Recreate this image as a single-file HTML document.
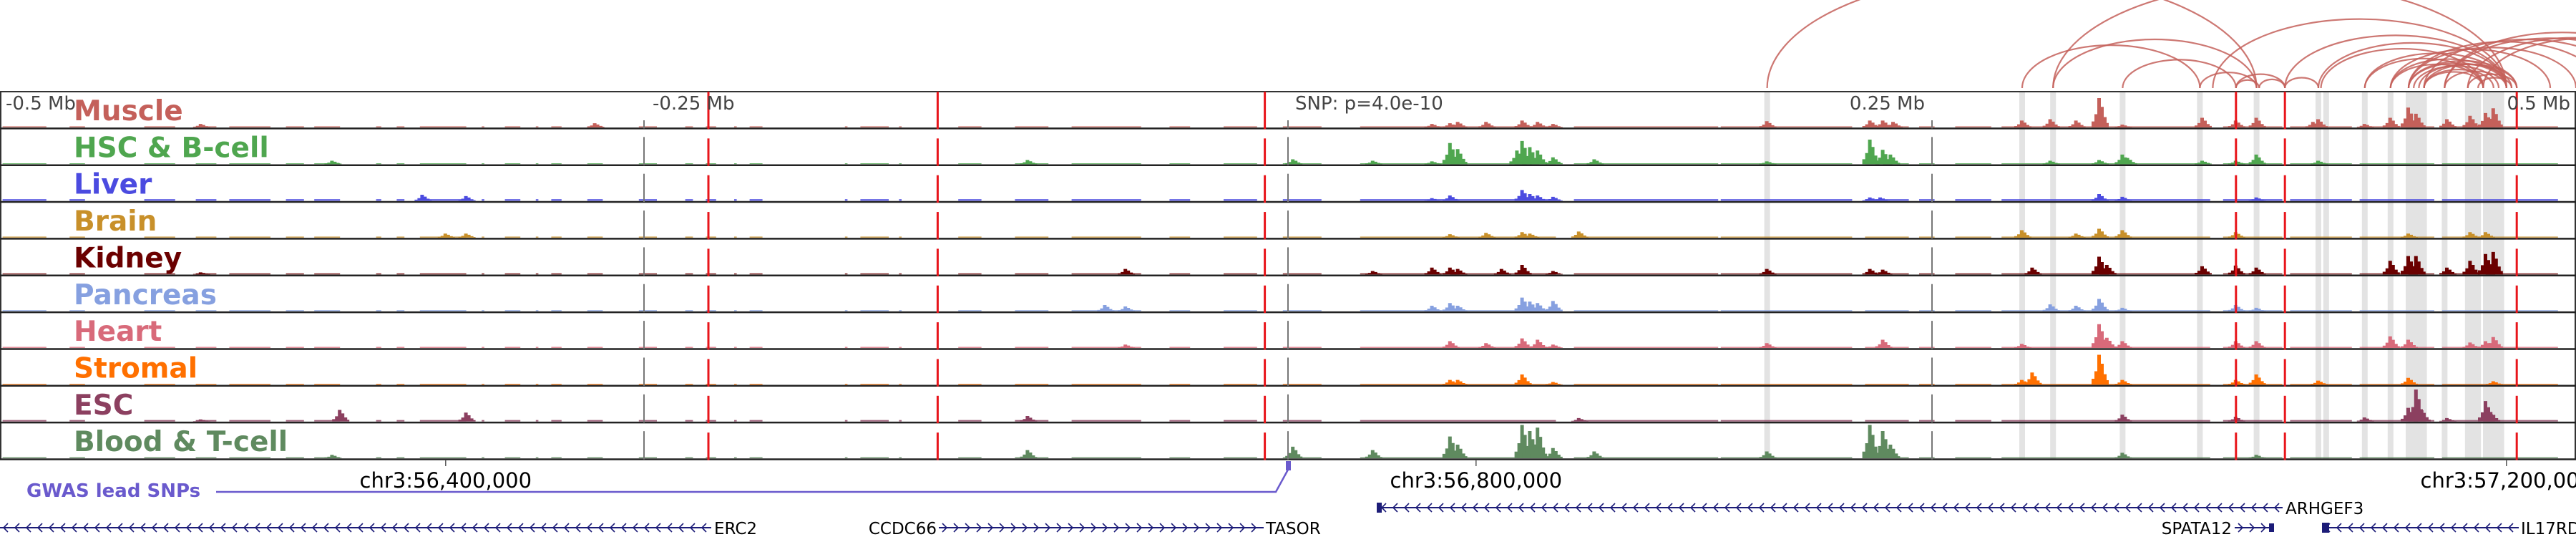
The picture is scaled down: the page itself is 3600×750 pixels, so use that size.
<!DOCTYPE html>
<html><head><meta charset="utf-8"><style>
html,body{margin:0;padding:0;background:#fff;}
svg{display:block;font-family:"DejaVu Sans","Liberation Sans",sans-serif;}
</style></head><body>
<svg id="chart" width="3600" height="750" viewBox="0 0 3600 750" xmlns="http://www.w3.org/2000/svg">
<g id="bands"></g>
<g id="arcs"></g>
<g id="tracks"></g>
<g id="vlines"></g>
<g id="labels"></g>
<g id="axis">
  <text x="8" y="153" font-size="26" fill="#444">-0.5 Mb</text>
  <text x="912" y="153" font-size="26" fill="#444">-0.25 Mb</text>
  <text x="1810" y="153" font-size="26" fill="#444">SNP: p=4.0e-10</text>
  <text x="2690" y="153" font-size="26" fill="#444" text-anchor="end">0.25 Mb</text>
  <text x="3592" y="153" font-size="26" fill="#444" text-anchor="end">0.5 Mb</text>
</g>
<g id="coords"></g>
<g id="gwas">
  <text x="37" y="694" font-size="26" font-weight="bold" fill="#6a5acd">GWAS lead SNPs</text>
  <polyline points="302,687 1783,687 1800,656" fill="none" stroke="#6a5acd" stroke-width="2.5"/>
  <rect x="1797" y="644" width="7" height="13" fill="#6a5acd"/>
</g>
<g id="genes"></g>
</svg>
<script>
const KB_PX = 3.6, CENTER_X = 1800;
const trackNames = ["Muscle","HSC & B-cell","Liver","Brain","Kidney","Pancreas","Heart","Stromal","ESC","Blood & T-cell"];
const trackColors = ["#c4605a","#4fa64f","#4b4be0","#c8902a","#6b0000","#86a0e0","#d86a7a","#ff7000","#8c4060","#5f8a5f"];
const bgLevels = [1.5,1.2,2.5,1.5,1.5,1.5,1.5,1.2,2,1.5];
const bgSegments = [[-499,-482],[-473,-467],[-444,-432],[-424,-416],[-411,-395],[-389,-382],[-378,-368],[-354,-352],[-346,-343],[-337,-319],[-313,-312],[-304,-298],[-292,-291],[-286,-282],[-272,-266],[-252,-245],[-234,-231],[-226,-222],[-215,-214],[-209,-204],[-172,-171],[-166,-155],[-151,-150],[-128,-119],[-106,-93],[-84,-57],[-46,-38],[-25,-12],[-2,13],[28,104],[111,167],[168,219],[224,241],[245,251],[259,273],[277,358],[363,386],[389,413],[416,445],[448,493]];
const peaksMuscle = [[-422,5],[-269,6],[56,5],[63,6],[66,8],[77,8],[91,10],[97,8],[103,5],[186,9],[226,10],[231,10],[235,8],[285,10],[296,12],[306,10],[315,43],[324,4],[355,14],[368,10],[376,14],[398,8],[400,12],[418,5],[428,14],[435,29],[438,20],[450,12],[459,17],[465,21],[468,28]];
const peaksHSC = [[-371,5],[-101,6],[2,7],[33,5],[56,4],[63,31],[66,22],[89,20],[91,34],[94,25],[97,20],[103,10],[119,7],[186,4],[226,36],[231,21],[234,14],[296,5],[315,6],[324,14],[326,9],[355,5],[368,5],[376,14],[400,5]];
const peaksLiver = [[-336,9],[-319,7],[56,4],[63,8],[91,16],[94,10],[97,8],[103,6],[226,5],[230,5],[315,10],[324,6],[376,5]];
const peaksBrain = [[-327,6],[-319,6],[63,5],[77,7],[91,8],[94,6],[113,9],[285,11],[306,6],[315,13],[324,11],[368,8],[435,6],[459,8],[465,8]];
const peaksKidney = [[-422,3],[-63,8],[33,5],[56,10],[63,10],[66,8],[83,8],[91,14],[103,5],[186,8],[226,8],[231,7],[289,10],[315,26],[318,14],[355,12],[368,13],[376,10],[428,20],[435,27],[438,27],[450,10],[459,20],[465,30],[468,33]];
const peaksPancreas = [[-71,9],[-63,7],[56,8],[63,12],[66,8],[91,20],[94,14],[97,12],[103,15],[296,10],[306,8],[315,18],[324,5],[368,9],[376,5]];
const peaksHeart = [[-63,5],[63,10],[77,7],[91,14],[97,12],[103,5],[186,7],[231,12],[285,6],[315,35],[318,15],[324,10],[368,10],[376,10],[428,17],[435,12],[459,8],[465,10],[468,16]];
const peaksStromal = [[63,7],[66,7],[91,15],[103,4],[285,7],[289,18],[315,44],[324,7],[368,7],[376,15],[400,6],[435,10],[468,5]];
const peaksESC = [[-422,3],[-368,17],[-319,13],[-101,8],[113,5],[324,10],[368,7],[418,6],[435,20],[438,47],[440,18],[450,5],[465,30],[467,14]];
const peaksBlood = [[-371,5],[-101,12],[2,17],[33,12],[63,32],[66,20],[91,50],[94,40],[97,45],[103,15],[119,10],[186,10],[226,50],[231,40],[234,20],[324,8],[376,5]];
const trackPeaks = [peaksMuscle,peaksHSC,peaksLiver,peaksBrain,peaksKidney,peaksPancreas,peaksHeart,peaksStromal,peaksESC,peaksBlood];
const anchorBands = [186,285,297,324,354,376,400,403,418,428,435,437,439,441,449,458,460,462,465,467,469,471];
const loops = [[186,376],[285,354],[297,473],[297,376],[324,368],[359,473],[354,376],[368,387],[368,377],[377,387],[387,400],[387,473],[401,464],[418,473],[449,530],[428,473],[435,473],[435,477],[441,477],[428,464],[435,500],[441,520],[449,540],[458,540],[464,545],[428,490],[435,510],[418,464],[441,464],[458,477],[449,473],[400,473],[437,470],[439,475],[441,468],[462,475]];
const redLinesKb = [-225,-136,-9,368,387,477];
const greyLinesKb = [-250,0,250];
const coordLabels = ["chr3:56,400,000","chr3:56,800,000","chr3:57,200,000"];
const coordKb = [-327,73,473];

const NS="http://www.w3.org/2000/svg";
const xs = kb => CENTER_X + kb*KB_PX;
const TOP=128, TH=51.35, NT=10;
const trackTop = i => TOP + i*TH;
const ys = v => Math.min(v, 49) * 0.95;
function mk(tag, attrs, parent){const e=document.createElementNS(NS,tag);for(const k in attrs)e.setAttribute(k,attrs[k]);parent.appendChild(e);return e;}

const bandsG=document.getElementById('bands');
anchorBands.forEach(kb=>{
  const r=mk('rect',{x:xs(kb)-4,y:TOP,width:8,height:NT*TH,fill:'#e3e3e3'},bandsG);
  
  
});

const arcsG=document.getElementById('arcs');
const FOOT=123;
loops.forEach(([s,e])=>{
  const x1=xs(s), x2=xs(e), a=(x2-x1)/2, b=0.45*a+4;
  const p=mk('path',{d:`M${x1},${FOOT} A${a},${b} 0 0 1 ${x2},${FOOT}`,fill:'none',stroke:'#c4605a','stroke-width':2.2,'stroke-opacity':0.85},arcsG);
  
  
});

const tracksG=document.getElementById('tracks');
mk('line',{x1:0,y1:TOP,x2:3600,y2:TOP,stroke:'#333','stroke-width':2},tracksG);
mk('line',{x1:1,y1:TOP,x2:1,y2:TOP+NT*TH,stroke:'#333','stroke-width':2},tracksG);
mk('line',{x1:3599,y1:TOP,x2:3599,y2:TOP+NT*TH,stroke:'#333','stroke-width':2},tracksG);
const labelsG=document.getElementById('labels');
for(let i=0;i<NT;i++){
  const g=mk('g',{},tracksG);
  
  
  const base=trackTop(i)+TH-1.5, col=trackColors[i];
  bgSegments.forEach(([s,e])=>{
    const r=mk('rect',{x:xs(s),y:base-bgLevels[i],width:Math.max(2,(e-s)*KB_PX),height:bgLevels[i],fill:col,'fill-opacity':0.8},g);
    
    
  });
  trackPeaks[i].forEach(([kb,v])=>{
    const x=xs(kb), h=ys(v);
    const d=`M${x-11},${base} V${base-h*0.2} H${x-7} V${base-h*0.45} H${x-3} V${base-h} H${x+2} V${base-h*0.7} H${x+6} V${base-h*0.35} H${x+10} V${base-h*0.15} H${x+13} V${base} Z`;
    const p=mk('path',{d:d,fill:col},g);
    
    
  });
  mk('line',{x1:0,y1:trackTop(i)+TH,x2:3600,y2:trackTop(i)+TH,stroke:'#222','stroke-width':2.5},g);
  const t=mk('text',{x:103,y:trackTop(i)+40,'font-size':39,'font-weight':'bold',fill:col},labelsG);
  t.textContent=trackNames[i];
  
  
}

const vG=document.getElementById('vlines');
for(let i=0;i<NT;i++){
  greyLinesKb.forEach(kb=>{
    const l=mk('line',{x1:xs(kb),y1:trackTop(i)+(i==0?40:12),x2:xs(kb),y2:trackTop(i)+TH,stroke:'#777','stroke-width':2},vG);
    
    
  });
  redLinesKb.forEach(kb=>{
    const l=mk('line',{x1:xs(kb),y1:trackTop(i)+(i==0?0:14),x2:xs(kb),y2:trackTop(i)+TH+1,stroke:'#e8151b','stroke-width':3},vG);
    
    
  });
}

const cG=document.getElementById('coords');
coordLabels.forEach((lab,k)=>{
  const x=xs(coordKb[k]);
  const l=mk('line',{x1:x,y1:642,x2:x,y2:651,stroke:'#555','stroke-width':1.5},cG);
  
  
  const t=mk('text',{x:x,y:681,'font-size':29,'text-anchor':'middle',fill:'#000'},cG);
  t.textContent=lab;
  
  
});

const gG=document.getElementById('genes');
const NAVY='#1c1c78';
function gene(name,x1,x2,y,dir,labelX,anchor){
  const g=mk('g',{},gG);
  
  
  mk('line',{x1:x1,y1:y,x2:x2,y2:y,stroke:NAVY,'stroke-width':2},g);
  for(let x=x1+6;x<x2-6;x+=16){
    const d=dir<0?`M${x+5},${y-6} L${x-1},${y} L${x+5},${y+6}`:`M${x-1},${y-6} L${x+5},${y} L${x-1},${y+6}`;
    mk('path',{d:d,fill:'none',stroke:NAVY,'stroke-width':1.6},g);
  }
  const t=mk('text',{x:labelX,y:y+9,'font-size':23,fill:'#000','text-anchor':anchor},g);
  t.textContent=name;
  return g;
}
gene('ERC2',0,994,737,-1,998,'start');
gene('TASOR',1312,1766,737,1,1769,'start');
const cc=mk('text',{x:1309,y:746,'font-size':23,fill:'#000','text-anchor':'end'},gG);
cc.textContent='CCDC66';


gene('ARHGEF3',1926,3190,709,-1,3194,'start');
mk('rect',{x:1924,y:702,width:7,height:14,fill:NAVY},gG);
gene('SPATA12',3123,3178,737,1,3119,'end');
mk('rect',{x:3171,y:731,width:7,height:12,fill:NAVY},gG);
gene('IL17RD',3245,3520,737,-1,3523,'start');
mk('rect',{x:3245,y:730,width:10,height:14,fill:NAVY},gG);
</script>
</body></html>
